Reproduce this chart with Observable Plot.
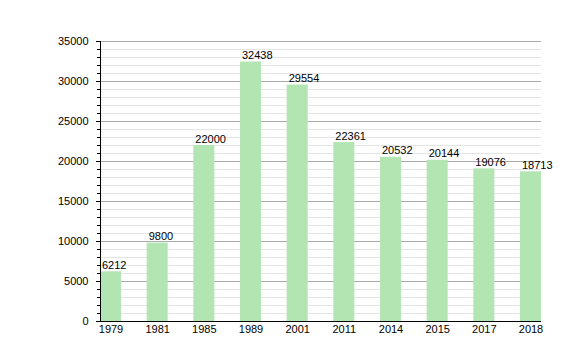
<!DOCTYPE html>
<html>
<head>
<meta charset="utf-8">
<script src="https://cdn.jsdelivr.net/npm/d3@7"></script>
<script src="https://cdn.jsdelivr.net/npm/@observablehq/plot@0.6"></script>
<style>
  html, body { margin: 0; padding: 0; background: #fff; }
  #chart svg { display: block; }
</style>
</head>
<body>
<div id="chart"></div>
<script>
const years = ["1979", "1981", "1985", "1989", "2001", "2011", "2014", "2015", "2017", "2018"];
const values = [6212, 9800, 22000, 32438, 29554, 22361, 20532, 20144, 19076, 18713];
const majorTicks = [0, 5000, 10000, 15000, 20000, 25000, 30000, 35000];
const minorTicks = d3.range(0, 35001, 1000);

const data = years.map((y, i) => ({year: y, value: values[i]}));

const chart = Plot.plot({
  width: 580,
  height: 360,
  marginLeft: 100,
  marginRight: 39,
  marginTop: 41,
  marginBottom: 39,
  style: {fontFamily: "'Liberation Sans', Arial, sans-serif", fontSize: "11px", color: "#000", background: "#fff"},
  x: {type: "band", domain: years, paddingInner: 0.55, paddingOuter: 0, round: false, label: null},
  y: {domain: [0, 35000], label: null},
  marks: [
    Plot.gridY(minorTicks, {stroke: "#e4e4e4", strokeOpacity: 1}),
    Plot.gridY(majorTicks, {stroke: "#aaaaaa", strokeOpacity: 1}),
    Plot.barY(data, {x: "year", y: "value", fill: "#b2e5b2"}),
    Plot.text(data, {x: "year", y: "value", text: d => String(d.value), textAnchor: "start", dx: -9, dy: -3, lineAnchor: "bottom", fill: "#000", fontSize: 11}),
    Plot.axisY(minorTicks, {tickSize: 3, text: null, stroke: "#000"}),
    Plot.axisY(majorTicks, {tickSize: 4, tickPadding: 8, tickFormat: d => String(d), fontSize: 11}),
    Plot.axisX({tickSize: 0, tickPadding: 4, fontSize: 11}),
    Plot.frame({anchor: "left", stroke: "#000"}),
    Plot.ruleY([0], {stroke: "#000"})
  ]
});
document.getElementById("chart").appendChild(chart);
</script>
</body>
</html>
